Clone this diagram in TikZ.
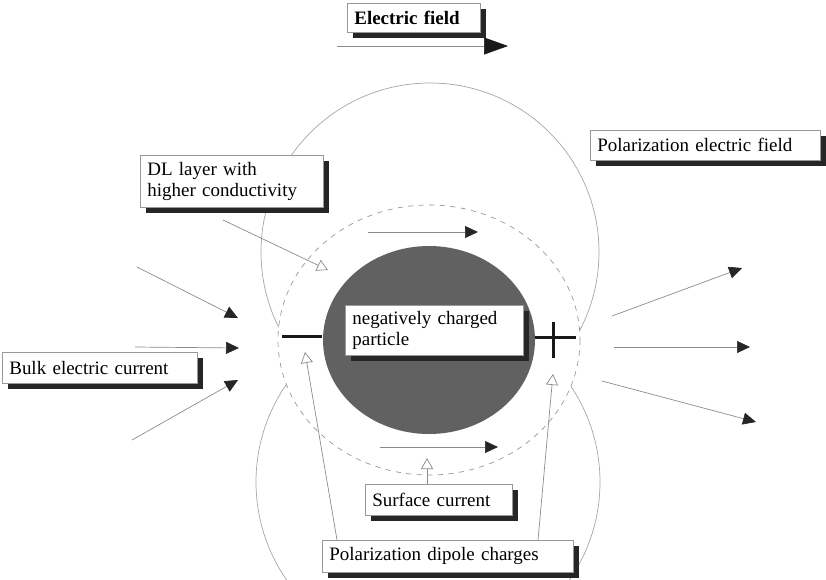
\documentclass[tikz,border=0pt]{standalone}
\usepackage{fontspec}
\setmainfont{Liberation Serif}
\usetikzlibrary{arrows.meta,shadows}
\begin{document}
\begin{tikzpicture}[x=0.02cm,y=-0.02cm,
    font=\fontsize{10.8}{11.8}\selectfont,
    labelbox/.style={draw=black!40,fill=white,anchor=north west,align=left,
      inner xsep=0.14cm,inner ysep=0pt,
      drop shadow={shadow xshift=0.12cm,shadow yshift=-0.12cm,fill=black!85,opacity=1}},
    fieldline/.style={black!45,thin,-{Triangle[black!85,length=0.26cm,width=0.24cm]}},
    pointer/.style={black!45,thin,-{Triangle[open,fill=white,length=0.22cm,width=0.24cm]}},
    charge/.style={line width=0.06cm,black!90}]
  \useasboundingbox (0,0) rectangle (826,579);

  \coordinate (centreNode) at (429,340);

  % polarization field
  \draw[black!35] (430,252) circle (169);
  \draw[black!35] (428,482) circle (172);

  % DL layer and particle
  \draw[black!40,dashed,fill=white] (centreNode) ellipse [x radius=151,y radius=135];
  \fill[black!62] (centreNode) ellipse [x radius=106,y radius=94];

  \draw[fieldline] (368,232) -- (478,232);
  \draw[fieldline] (380,447) -- (498,447);

  \draw[charge] (282,336) -- (322,336);
  \draw[charge] (535,337) -- (576,337);
  \draw[charge] (553,322) -- (553,358);

  % bulk current and polarization arrows
  \foreach \sx/\sy/\ex/\ey in {137/267/238/318, 135/347/239/348, 132/440/238/380}
    \draw[fieldline] (\sx,\sy) -- (\ex,\ey);
  \foreach \sx/\sy/\ex/\ey in {612/316/742/268, 614/347/750/347, 602/381/756/422}
    \draw[fieldline] (\sx,\sy) -- (\ex,\ey);

  \draw[black!45,thin,-{Triangle[black!90,length=0.48cm,width=0.34cm]}] (337,46) -- (508,46);

  % labels
  \node[labelbox,text width=2.38cm,minimum height=0.58cm] (fieldBox) at (347,3) {\textbf{Electric field}};
  \node[labelbox,text width=3.38cm,minimum height=1.04cm] (dlBox) at (140,155) {DL layer with\\higher conductivity};
  \node[labelbox,text width=4.32cm,minimum height=0.6cm] (polBox) at (590,130) {Polarization electric field};
  \node[labelbox,text width=3.62cm,minimum height=0.62cm] (bulkBox) at (2,352) {Bulk electric current};
  \node[labelbox,text width=3.28cm,minimum height=1.0cm] (particleBox) at (345,305) {negatively charged\\particle};
  \node[labelbox,text width=2.66cm,minimum height=0.62cm] (surfaceBox) at (365,484) {Surface current};
  \node[labelbox,text width=4.74cm,minimum height=0.64cm] (dipoleBox) at (322,540) {Polarization dipole charges};

  % pointers
  \coordinate (dlFoot) at (223,220);
  \coordinate (dlTip) at (328,270);
  \coordinate (surfaceTip) at (427,458);
  \coordinate (minusTip) at (305,352);
  \coordinate (plusTip) at (553,374);
  \draw[pointer] (dlFoot) -- (dlTip);
  \draw[pointer] (surfaceTip |- surfaceBox.north) -- (surfaceTip);
  \draw[pointer] (337,0 |- dipoleBox.north) -- (minusTip);
  \draw[pointer] (538,0 |- dipoleBox.north) -- (plusTip);
\end{tikzpicture}
\end{document}
